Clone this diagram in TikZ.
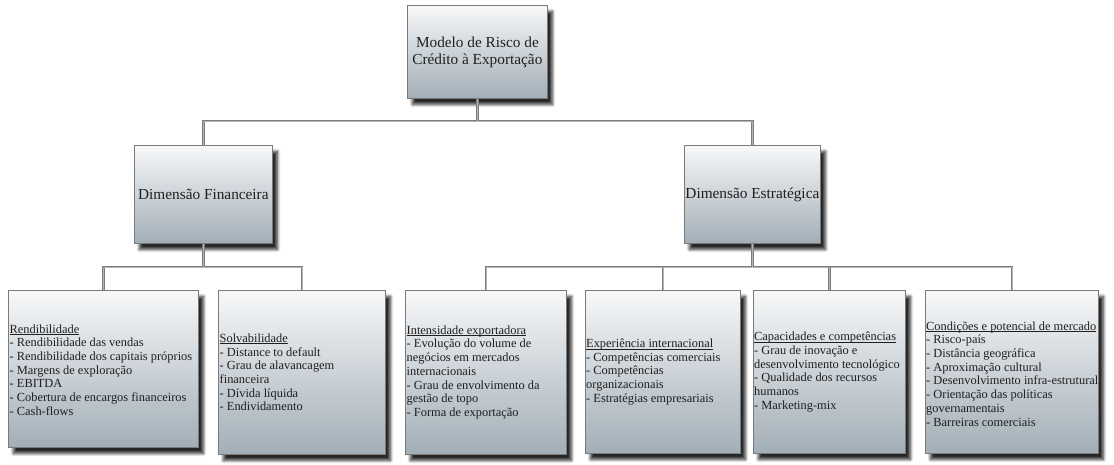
\documentclass[tikz,border=0pt]{standalone}
\usepackage{fontspec}
\setmainfont{Liberation Serif}
\newsavebox{\hdbox}
\newcommand{\hdul}[1]{\sbox{\hdbox}{#1}\rlap{\rule[-1.6pt]{\wd\hdbox}{0.5pt}}\usebox{\hdbox}}
\usetikzlibrary{shadows.blur}
\definecolor{boxtop}{HTML}{F7F8F9}
\definecolor{boxbot}{HTML}{A2AEB7}
\definecolor{edge}{HTML}{7A7A7A}
\definecolor{connout}{HTML}{7C7C7C}
\definecolor{connin}{HTML}{B4B4B4}
\tikzset{
  box/.style={draw=edge, line width=0.8pt, rectangle, anchor=north west, inner sep=0pt,
    top color=boxtop, bottom color=boxbot,
    blur shadow={shadow xshift=5pt, shadow yshift=-6pt, shadow blur steps=8, shadow opacity=85, shadow blur radius=3pt}},
  bigtext/.style={font=\fontsize{15.3}{17}\selectfont, align=center, inner sep=0pt, text=black!88},
  smalltext/.style={font=\fontsize{12.4}{13.7}\selectfont, align=left, anchor=west, inner sep=0pt, text=black!88},
  conn/.style={draw=connout, line width=0.9pt, double=connin, double distance=0.8pt}
}
\begin{document}
\begin{tikzpicture}[x=1pt,y=-1pt]
\useasboundingbox (0,0) rectangle (1114,465);
% bus coordinates
\coordinate (bus1) at (0,121);
\coordinate (bus2) at (0,267);
% level 1
\node[box, minimum width=140pt, minimum height=93pt] (top) at (407,5) {};
\node[bigtext] (toptxt) at (top.center) {Modelo de Risco de\\Crédito à Exportação};
% level 2
\node[box, minimum width=138pt, minimum height=98pt] (fin) at (134,145) {};
\node[bigtext] (fintxt) at (fin.center) {Dimensão Financeira};
\node[box, minimum width=136pt, minimum height=98pt] (est) at (684,145) {};
\node[bigtext] (esttxt) at (est.center) {Dimensão Estratégica};
% level 3
\node[box, minimum width=190pt, minimum height=157pt] (b1) at (8,290) {};
\node[box, minimum width=167pt, minimum height=164pt] (b2) at (218,290) {};
\node[box, minimum width=161pt, minimum height=164pt] (b3) at (405,290) {};
\node[box, minimum width=155pt, minimum height=163pt] (b4) at (585,290) {};
\node[box, minimum width=152pt, minimum height=163pt] (b5) at (753,290) {};
\node[box, minimum width=173pt, minimum height=163pt] (b6) at (925,290) {};
\node[smalltext] (t1) at ([xshift=1.5pt,yshift=-1pt]b1.west) {\hdul{Rendibilidade}\\- Rendibilidade das vendas\\- Rendibilidade dos capitais próprios\\- Margens de exploração\\- EBITDA\\- Cobertura de encargos financeiros\\- Cash-flows};
\node[smalltext] (t2) at ([xshift=1.5pt]b2.west) {\hdul{Solvabilidade}\\- Distance to default\\- Grau de alavancagem\\financeira\\- Dívida líquida\\- Endividamento};
\node[smalltext] (t3) at ([xshift=1.5pt]b3.west) {\hdul{Intensidade exportadora}\\- Evolução do volume de\\negócios em mercados\\internacionais\\- Grau de envolvimento da\\gestão de topo\\- Forma de exportação};
\node[smalltext] (t4) at ([xshift=1pt]b4.west) {\hdul{Experiência internacional}\\- Competências comerciais\\- Competências\\organizacionais\\- Estratégias empresariais};
\node[smalltext] (t5) at ([xshift=1pt]b5.west) {\hdul{Capacidades e competências}\\- Grau de inovação e\\desenvolvimento tecnológico\\- Qualidade dos recursos\\humanos\\- Marketing-mix};
\node[smalltext] (t6) at ([xshift=1pt,yshift=-2pt]b6.west) {\hdul{Condições e potencial de mercado}\\- Risco-país\\- Distância geográfica\\- Aproximação cultural\\- Desenvolvimento infra-estrutural\\- Orientação das políticas\\governamentais\\- Barreiras comerciais};
% connectors
\draw[conn] (fin.north) |- (est.north |- bus1) -- (est.north);
\draw[conn] (top.south) -- (top.south |- bus1);
\draw[conn] (b1.north) |- (b2.north |- bus2) -- (b2.north);
\draw[conn] (fin.south) -- (fin.south |- bus2);
\draw[conn] (b3.north) |- (b6.north |- bus2) -- (b6.north);
\draw[conn] (b4.north |- bus2) -- (b4.north);
\draw[conn] (b5.north |- bus2) -- (b5.north);
\draw[conn] (est.south) -- (est.south |- bus2);
\end{tikzpicture}
\end{document}
